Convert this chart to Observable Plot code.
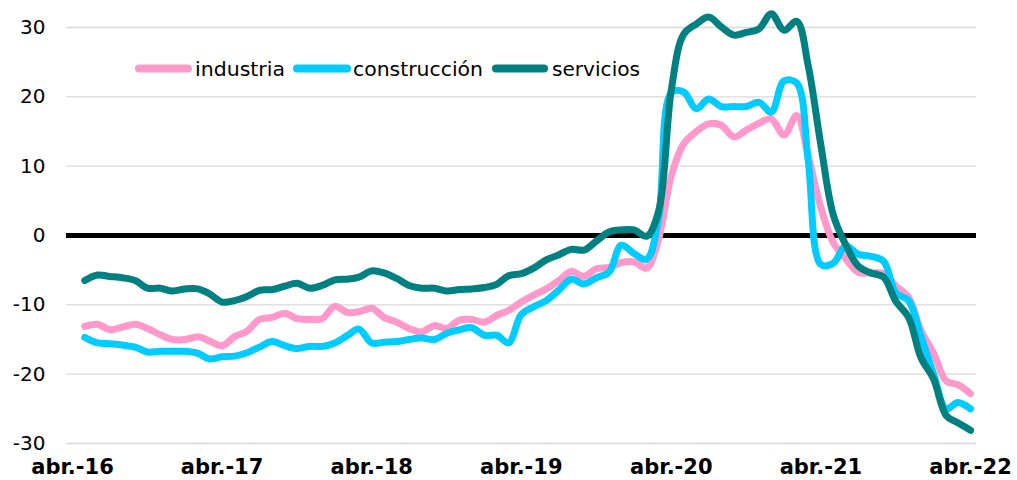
<!DOCTYPE html>
<html><head><meta charset="utf-8">
<script src="https://cdn.jsdelivr.net/npm/d3@7"></script>
<script src="https://cdn.jsdelivr.net/npm/@observablehq/plot@0.6"></script>
<style>
body{margin:0;background:#fff;}
#wrap{position:relative;width:1017px;height:480px;}
#legend{position:absolute;left:0;top:0;pointer-events:none;}
</style></head><body><div id="wrap"></div>
<script>
// Monthly series, first month = May 2016, last = April 2022
const startMonth = "2016-05-01";
const industria = [-13.1,-12.8,-13.6,-13.2,-12.8,-13.4,-14.3,-15.0,-15.0,-14.6,-15.2,-15.9,
  -14.6,-13.8,-12.1,-11.8,-11.2,-12.0,-12.1,-12.0,-10.2,-11.1,-11.0,-10.5,
  -11.8,-12.5,-13.4,-13.9,-13.0,-13.4,-12.2,-12.1,-12.5,-11.5,-10.8,-9.6,
  -8.6,-7.7,-6.5,-5.2,-5.9,-4.8,-4.6,-3.9,-3.8,-4.7,-0.5,8.6,
  13.2,15.0,16.1,15.9,14.2,15.2,16.2,16.8,14.5,17.3,11.5,4.0,
  -1.0,-3.4,-5.3,-5.4,-5.5,-7.3,-8.9,-13.7,-17.0,-21.0,-21.5,-22.8];
const construccion = [-14.7,-15.5,-15.6,-15.8,-16.1,-16.8,-16.7,-16.7,-16.7,-17.0,-17.8,-17.5,
  -17.4,-16.9,-16.1,-15.3,-15.9,-16.3,-16.0,-16.0,-15.5,-14.4,-13.5,-15.5,
  -15.4,-15.3,-15.0,-14.8,-15.0,-14.1,-13.6,-13.3,-14.4,-14.4,-15.5,-11.4,
  -10.3,-9.4,-7.9,-6.3,-7.0,-6.1,-5.3,-1.4,-2.6,-3.4,2.5,20.6,
  20.7,18.3,19.7,18.6,18.6,18.6,19.2,17.8,22.3,22.0,10.8,-4.2,
  -4.0,-1.5,-2.7,-3.0,-3.7,-8.3,-9.4,-14.5,-20.0,-25.0,-24.1,-25.0];
const servicios = [-6.5,-5.7,-5.9,-6.1,-6.5,-7.6,-7.6,-8.0,-7.7,-7.7,-8.4,-9.6,
  -9.4,-8.8,-7.9,-7.8,-7.3,-6.9,-7.6,-7.2,-6.4,-6.3,-6.0,-5.1,
  -5.4,-6.2,-7.2,-7.6,-7.6,-8.0,-7.8,-7.7,-7.5,-7.0,-5.8,-5.5,
  -4.7,-3.5,-2.8,-2.0,-2.1,-0.8,0.5,0.8,0.8,-0.1,3.5,21.0,
  29.0,30.5,31.5,30.1,28.9,29.3,29.8,32.0,29.6,30.9,24.5,13.0,
  3.0,-1.4,-4.4,-5.4,-6.0,-9.5,-11.8,-17.6,-20.7,-26.0,-27.0,-28.1];
const seriesNames = ["industria", "construcción", "servicios"];
const seriesColors = ["#FF99CC", "#00CCFF", "#008080"];
const tickYears = [2016, 2017, 2018, 2019, 2020, 2021, 2022];
const yTicks = [-30, -20, -10, 0, 10, 20, 30];

const start = new Date(startMonth + "T00:00:00Z");
const rows = [];
[industria, construccion, servicios].forEach((vals, k) =>
  vals.forEach((v, i) => rows.push({date: d3.utcMonth.offset(start, i), value: v, serie: seriesNames[k]})));
const tickDates = tickYears.map(y => new Date(Date.UTC(y, 3, 1)));

const chart = Plot.plot({
  width: 1017, height: 480,
  marginTop: 27, marginBottom: 37, marginLeft: 66, marginRight: 41,
  style: {fontFamily: "DejaVu Sans", fontSize: "20px", color: "#000", background: "#fff"},
  x: {type: "utc", domain: [tickDates[0], tickDates[tickDates.length - 1]], insetLeft: 6, insetRight: 6, label: null},
  y: {domain: [-30, 30], label: null},
  color: {domain: seriesNames, range: seriesColors},
  marks: [
    Plot.ruleY(yTicks.filter(d => d !== 0), {stroke: "#d9d9d9", strokeWidth: 1.3}),
    Plot.ruleY([0], {stroke: "#000", strokeWidth: 5}),
    Plot.axisY({ticks: yTicks, tickSize: 0, tickPadding: 21, fontSize: 20, label: null,
      tickFormat: d => String(d)}),
    Plot.axisX({ticks: tickDates, tickSize: 0, tickPadding: 16, fontSize: 21, fontWeight: "bold",
      tickFormat: d => "abr.-" + String(d.getUTCFullYear()).slice(2), label: null}),
    Plot.line(rows, {x: "date", y: "value", z: "serie", stroke: "serie", strokeWidth: 7,
      curve: "catmull-rom", strokeLinecap: "round", strokeLinejoin: "round"})
  ]
});
const wrap = document.getElementById("wrap");
wrap.appendChild(chart);

// Legend overlay
const ns = "http://www.w3.org/2000/svg";
const leg = document.createElementNS(ns, "svg");
leg.setAttribute("id", "legend");
leg.setAttribute("width", 1017);
leg.setAttribute("height", 480);
const legItems = [
  {x1: 139, x2: 188, tx: 195, tw: 90},
  {x1: 297, x2: 347, tx: 353, tw: 130},
  {x1: 496, x2: 544, tx: 552, tw: 88}
];
legItems.forEach((it, k) => {
  const l = document.createElementNS(ns, "line");
  l.setAttribute("x1", it.x1); l.setAttribute("x2", it.x2);
  l.setAttribute("y1", 68.5); l.setAttribute("y2", 68.5);
  l.setAttribute("stroke", seriesColors[k]);
  l.setAttribute("stroke-width", 8);
  l.setAttribute("stroke-linecap", "round");
  leg.appendChild(l);
  const t = document.createElementNS(ns, "text");
  t.setAttribute("x", it.tx); t.setAttribute("y", 76);
  t.setAttribute("font-family", "DejaVu Sans");
  t.setAttribute("font-size", 20);
  t.setAttribute("fill", "#000");
  t.setAttribute("textLength", it.tw);
  t.setAttribute("lengthAdjust", "spacingAndGlyphs");
  t.textContent = seriesNames[k];
  leg.appendChild(t);
});
wrap.appendChild(leg);
</script></body></html>
